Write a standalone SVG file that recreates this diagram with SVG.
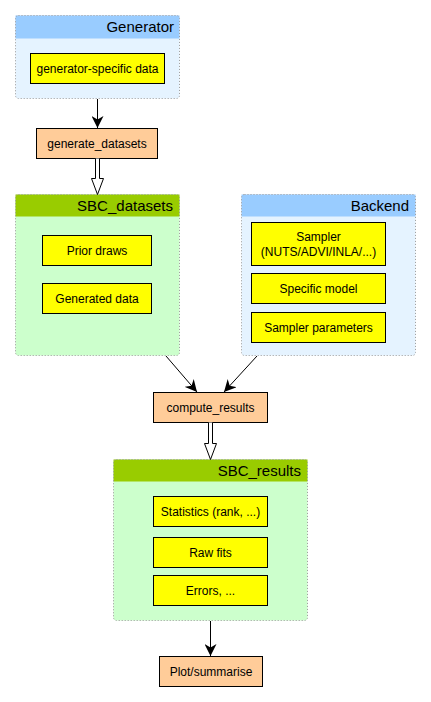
<svg xmlns="http://www.w3.org/2000/svg" width="431" height="702" viewBox="0 0 431 702">
<defs>
<marker id="arr" markerUnits="userSpaceOnUse" markerWidth="12" markerHeight="12" refX="10" refY="5" orient="auto" viewBox="0 0 10 10">
<path d="M0,0 L10,5 L0,10 L3,5 Z" fill="#000"/>
</marker>
</defs>
<style>
text{font-family:"Liberation Sans",Arial,sans-serif;fill:#000}
.lbl{font-size:12px;text-anchor:middle}
.hdr{font-size:15px;text-anchor:end}
.box{fill:#ffff00;stroke:#000;stroke-width:1}
.fn{fill:#ffcc99;stroke:#000;stroke-width:1}
.cont{stroke:#999;stroke-width:1;stroke-dasharray:1 2}
.blueb{fill:#e5f3ff}
.blueh{fill:#99ccff}
.greenb{fill:#ccffcc}
.greenh{fill:#99cc00}
.edge{stroke:#000;stroke-width:1;fill:none}
.dbl{fill:#fff;stroke:#000;stroke-width:1}
</style>

<g id="generator">
<rect x="15.5" y="15.5" width="164" height="83" rx="3" class="blueb"/>
<rect x="15.5" y="15.5" width="164" height="23" class="blueh"/>
<rect x="15.5" y="15.5" width="164" height="83" rx="3" class="cont" fill="none"/>
<text x="174" y="32" class="hdr">Generator</text>
<rect x="30.5" y="53.5" width="134" height="30" class="box"/>
<text x="97.5" y="72.5" class="lbl">generator-specific data</text>
</g>

<g id="generate_datasets">
<rect x="36.5" y="128.5" width="121" height="30" class="fn"/>
<text x="97" y="147.5" class="lbl">generate_datasets</text>
</g>

<g id="sbc_datasets">
<rect x="15.5" y="194.5" width="164" height="161" rx="3" class="greenb"/>
<rect x="15.5" y="194.5" width="164" height="22" class="greenh"/>
<rect x="15.5" y="194.5" width="164" height="161" rx="3" class="cont" fill="none"/>
<text x="173" y="211" class="hdr">SBC_datasets</text>
<rect x="42.5" y="235.5" width="109" height="30" class="box"/>
<text x="97" y="254.5" class="lbl">Prior draws</text>
<rect x="42.5" y="283.5" width="109" height="30" class="box"/>
<text x="97" y="302.5" class="lbl">Generated data</text>
</g>

<g id="backend">
<rect x="241.5" y="194.5" width="174" height="161" rx="3" class="blueb"/>
<rect x="241.5" y="194.5" width="174" height="22" class="blueh"/>
<rect x="241.5" y="194.5" width="174" height="161" rx="3" class="cont" fill="none"/>
<text x="409" y="211" class="hdr">Backend</text>
<rect x="251.5" y="222.5" width="134" height="43" class="box"/>
<text x="318.5" y="241" class="lbl">Sampler</text>
<text x="318.5" y="256" class="lbl">(NUTS/ADVI/INLA/...)</text>
<rect x="251.5" y="273.5" width="134" height="30" class="box"/>
<text x="318.5" y="292.5" class="lbl">Specific model</text>
<rect x="251.5" y="312.5" width="134" height="30" class="box"/>
<text x="318.5" y="331.5" class="lbl">Sampler parameters</text>
</g>

<g id="compute_results">
<rect x="153.5" y="392.5" width="114" height="30" class="fn"/>
<text x="210.5" y="411.5" class="lbl">compute_results</text>
</g>

<g id="sbc_results">
<rect x="113.5" y="459.5" width="194" height="161" rx="3" class="greenb"/>
<rect x="113.5" y="459.5" width="194" height="22" class="greenh"/>
<rect x="113.5" y="459.5" width="194" height="161" rx="3" class="cont" fill="none"/>
<text x="301" y="476" class="hdr">SBC_results</text>
<rect x="153.5" y="496.5" width="114" height="30" class="box"/>
<text x="210.5" y="515.5" class="lbl">Statistics (rank, ...)</text>
<rect x="153.5" y="537.5" width="114" height="30" class="box"/>
<text x="210.5" y="556.5" class="lbl">Raw fits</text>
<rect x="153.5" y="575.5" width="114" height="30" class="box"/>
<text x="210.5" y="594.5" class="lbl">Errors, ...</text>
</g>

<g id="plot_summarise">
<rect x="159.5" y="656.5" width="103" height="30" class="fn"/>
<text x="211" y="675.5" class="lbl">Plot/summarise</text>
</g>

<g id="connectors">
<line x1="97.5" y1="99" x2="97.5" y2="128" class="edge" marker-end="url(#arr)"/>
<path d="M95.5,158.5 V178.5 H91.5 L97.5,194.5 L103.5,178.5 H99.5 V158.5" class="dbl"/>
<line x1="166" y1="356" x2="197" y2="392" class="edge" marker-end="url(#arr)"/>
<line x1="257" y1="356" x2="224" y2="392" class="edge" marker-end="url(#arr)"/>
<path d="M208.5,422.5 V443.5 H204.5 L210.5,459.5 L216.5,443.5 H212.5 V422.5" class="dbl"/>
<line x1="210.5" y1="621" x2="210.5" y2="656" class="edge" marker-end="url(#arr)"/>
</g>
</svg>
